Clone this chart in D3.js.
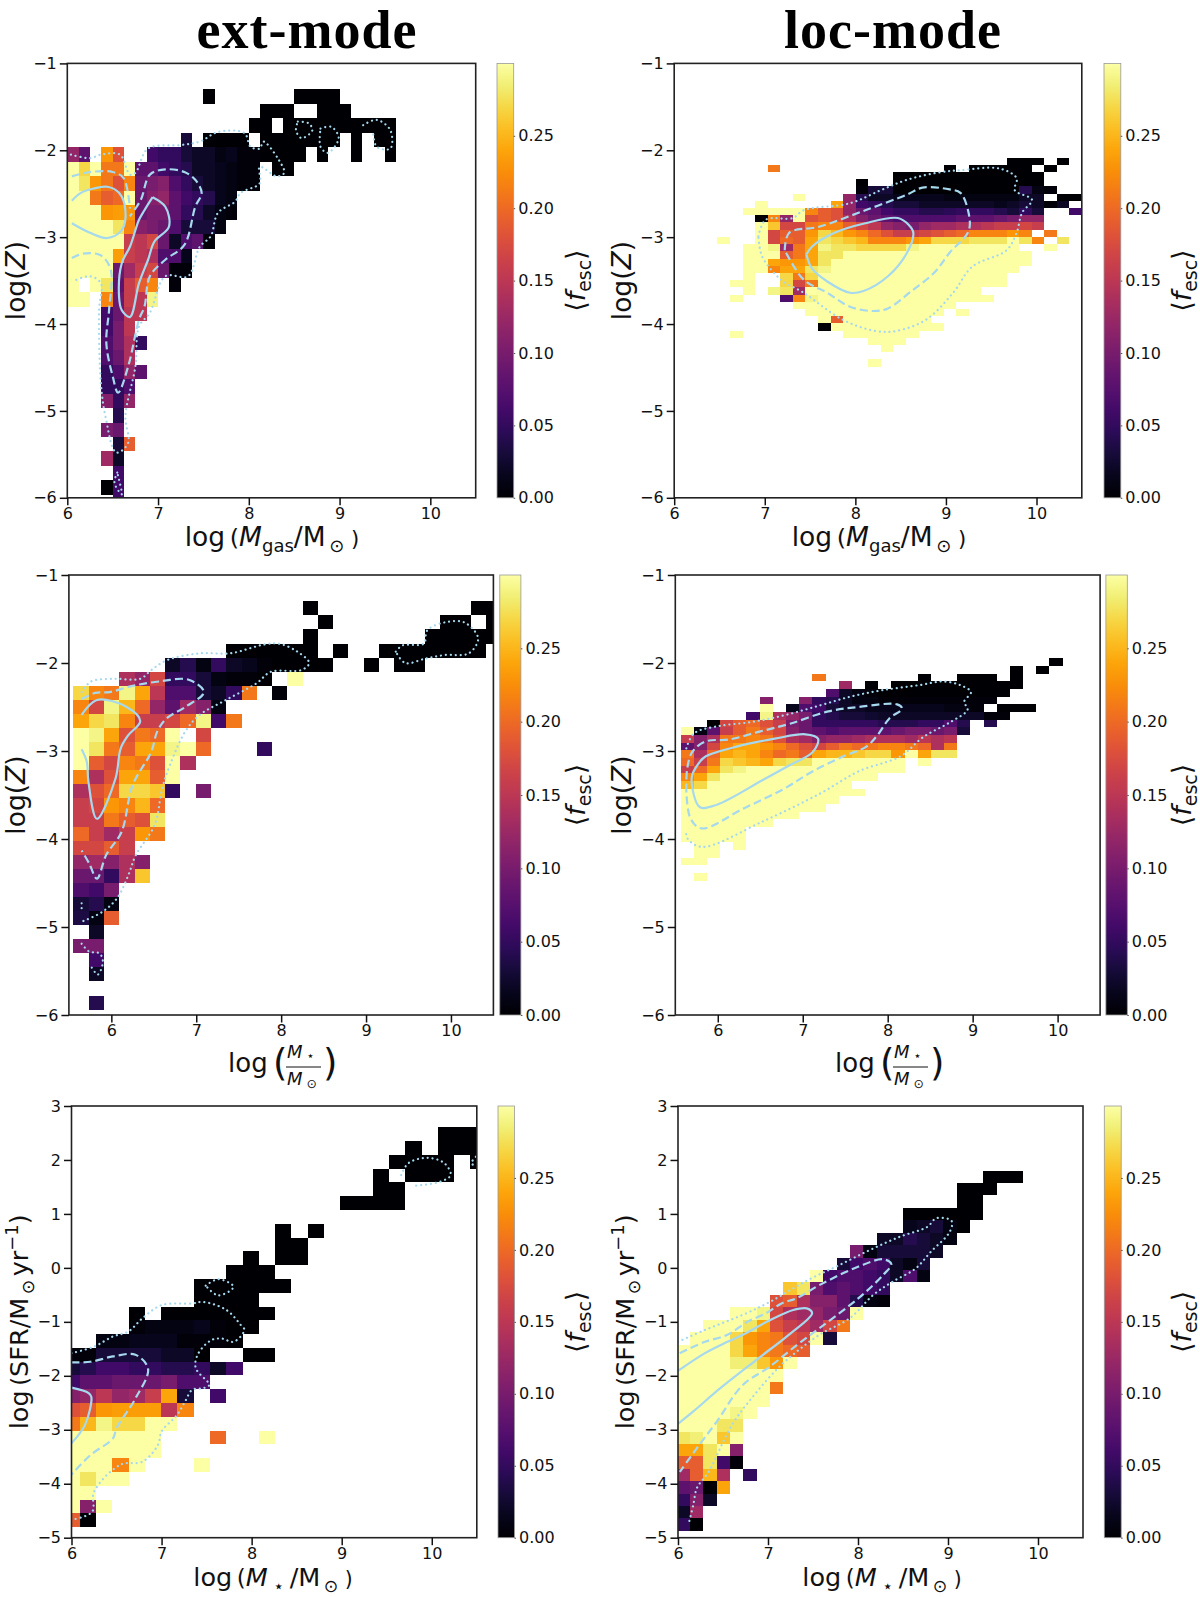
<!DOCTYPE html>
<html lang="en">
<head>
<meta charset="UTF-8">
<style>
  body { margin: 0; background: #fff; }
  text { font-family: "DejaVu Sans", sans-serif; fill: #111; }
  .title { font-family: "Liberation Serif", serif; font-weight: bold; font-size: 54px; letter-spacing: 1px; fill: #000; }
  .tick text { font-size: 16px; font-family: "DejaVu Sans", sans-serif; }
</style>
</head>
<body>
<svg id="fig" width="1200" height="1597"></svg>
<script src="https://d3js.org/d3.v7.min.js"></script>
<script>
// mean fesc in hundredths; each row is [row from top, first column, values...]
const _ = null;
const extGasRows = [
  [0,12,0,_,_,_,_,_,_,_,0,0,0,0],
  [1,17,0,0,0,_,_,0,0,0],
  [2,16,0,0,_,0,0,0,0,0,0,0,0,0,0],
  [3,10,3,_,0,0,0,0,_,0,0,0,0,0,0,0,_,0,_,0,0],
  [4,0,12,8,_,23,18,_,_,6,5,5,3,2,2,1,1.5,.5,.5,0,0,0,0,_,0,_,_,0,_,_,0],
  [5,0,30,27,30,21,21,30,8,8,6,5,4,2,2,1.5,1,.5,.5,_,0,0],
  [6,0,30,28,23,21,18,22,9,10,11,7,5,3,2,1.5,1,.5,.5],
  [7,0,30,30,21,19,20,30,9,11,12,8,6,5,4,1.5,1],
  [8,0,30,30,30,23,23.5,23,9,10,10,8,5,4,2,1,.5],
  [9,0,30,30,30,30,28,22,11,10,9,7,3,3,3,1],
  [10,0,30,30,30,30,30,16,15,17,9,2,7,8,.5],
  [11,0,30,30,30,30,23.5,16,15,14,7,7,1.5],
  [12,0,30,30,30,30,9,13,16,17,9,.5,.5],
  [13,0,30,_,30,28,8,16,19,22,_,.5],
  [14,0,30,30,_,22,9,16,15,29],
  [15,3,6,9,15,15],
  [16,3,6,10,15],
  [17,3,7,10,14,5],
  [18,3,7,9,14],
  [19,3,5,7,12,8],
  [20,3,5,5,7],
  [21,3,11,5,12],
  [22,4,4],
  [23,3,10,9],
  [24,4,3,19],
  [25,3,13,2],
  [26,4,6],
  [27,3,0,6],
  [28,4,6]
];
const locGasRows = [
  [0,23,0,0,0,_,0],
  [1,4,21,_,_,_,_,_,_,_,_,_,_,_,_,_,0,_,0,0,0,0,0,_,0],
  [2,14,0,0,0,0,0,0,0,0,0,0,0,0],
  [3,11,0,_,_,0,0,0,0,0,0,0,0,0,0,0,0],
  [4,11,.5,3,3,0,0,0,0,0,0,0,0,0,0,4,1,.5],
  [5,6,30,_,_,_,12,4,2,2,1.5,1.5,1.5,1.5,1,1,1,1,1,1,2,2,_,0,0],
  [6,3,30,_,_,_,_,_,24,12,6,5,4,3,3,2,2,2,2,2,2,1.5,2,3,2,.5,2],
  [7,2,30,30,30,30,30,22,19,18,12,9,8,6,5,5,4,4,4.5,5,5,5,4,3,5,3,_,_,6],
  [8,3,0,22,12,30,18,19,18,14,11,9,8,7,7,7,7,7,8,8,8,9,10,12,12],
  [9,3,30,26,17,17,21,22,22,19,17,15,12,11,10,12,13,13,14,14,15,16,16,17,16],
  [10,3,30,17,19,19,23,27,25,23,22,20,18,16,16,17,18,19,20,22,22,22,23,22,_,21],
  [11,0,30,_,_,30,17,20,19,24,28,27,26,25,22,22,22,23,24,27,27,27,28,28,28,30,28,22,_,28],
  [12,2,30,30,29,13,21,24,29,28,28,27,27,27,27,29,30,30,30,30,30,30,30,30,_,_,30],
  [13,2,30,30,30,19,21,24,28,28,30,30,30,30,30,30,30,30,30,30,30,30,30,30,30],
  [14,2,30,30,24,23,23,24,28,30,30,30,30,30,30,30,30,30,30,30,30,30,30,30,30],
  [15,2,30,30,22,24,24,28,29,30,30,30,30,30,30,30,30,30,30,30,30,30,30,30],
  [16,2,30,_,_,27,21,27,30,30,30,30,30,30,30,30,30,30,30,30,30,30,30],
  [17,1,30,30,_,_,27,17,21,30,30,30,30,30,30,30,30,30,30,30,30,30,30,30],
  [18,2,30,_,29,28,13,30,30,30,30,30,30,30,30,30,30,30,30,30,30],
  [19,1,30,_,_,_,7,22,29,30,30,30,30,30,30,30,30,30,30,30,30,30,30],
  [20,6,30,30,30,30,30,30,30,30,30,30,30,30,30],
  [21,7,30,30,30,30,30,30,30,30,30,30,30,_,30],
  [22,8,30,19,30,30,30,30,30,30,30],
  [23,8,0,30,30,30,30,30,30,30,30,30],
  [24,1,30,_,_,_,_,_,_,_,_,30,30,30,30,30,30],
  [25,12,30,30,30],
  [26,13,30],
  [28,12,30]
];
const extStarRows = [
  [0,15,0,_,_,_,_,_,_,_,_,_,_,0,0],
  [1,16,0,_,_,_,_,_,_,_,0,0,_,0],
  [2,15,0,_,_,_,_,_,_,_,0,0,0,0,0],
  [3,10,0,0,0,0,0,0,_,0,_,_,0,0,0,0,0,0,0],
  [4,6,2,4,1,5,2,1.5,.5,0,0,0,0,_,_,0,_,0,0],
  [5,3,14,12,17,5,5,3,1,.5,.5,0,_,30],
  [6,0,27,22,21,29,24,15,7,7,3,2,5,21,_,.5],
  [7,0,22,17,29,25,20,12,8,13,11,1],
  [8,0,24,27,28,22,16,16,17,20,29,6,21],
  [9,0,30,29,24,18,21,20,30,_,17],
  [10,0,30,28,21,19,24,24,29,30,20,_,_,_,5],
  [11,0,30,19,17,22,21,18,30,14],
  [12,0,22,14,18,24,24,19,30],
  [13,0,14,18,20,27,27,26,5,_,10],
  [14,0,16,17,23,22,25,20],
  [15,0,16,16,21,19,18,28],
  [16,0,20,16,13,16,23,21],
  [17,0,17,17,19,16],
  [18,0,12,13,11,14,11],
  [19,0,9,9,5,14,26],
  [20,0,7,6,10],
  [21,0,3,4,1],
  [22,0,3.5,1,19],
  [23,1,2],
  [24,0,10,10],
  [25,1,6],
  [26,1,2],
  [28,1,4]
];
const locStarRows = [
  [0,28,0],
  [1,25,0,_,0],
  [2,10,21,_,_,_,_,_,_,_,0,_,_,0,0,0,_,0],
  [3,12,13,_,0,_,0,0,0,0,0,0,0,0,0,0],
  [4,11,7,2,1,.5,0,0,0,0,0,0,0,0,0,0],
  [5,6,11,_,_,11,5,4,2,1,1,.5,.5,.5,.5,.5,.5,.5,.5,.5],
  [6,6,30,_,1.5,7,6,3,2,2,1.5,1.5,1.5,1.5,1.5,1.5,1,1,.5,_,0,0,0],
  [7,5,6,29,14,12,10,5,4,3,3,2.5,2,2,2,2,2,2,2,2,.5,.5],
  [8,2,0,17,19,20,18,16,10,9,5,5,5,5,5,4,4,4,5,5,7,4,_,4],
  [9,0,30,1,8,16,19,21,19,17,11,9,8,7,8,8,8,8,9,10,10,9,10,3],
  [10,0,16,11,14,21,21,22,21,18,14,13,11,12,12,13,14,14,14,13,15,14,15],
  [11,0,8,11,17,22,24,24,23,22,20,18,17,19,21,20,21,22,22,21,20,14,21],
  [12,0,21,14,20,24,25,24,22,20,21,19,24,25,25,26,27,27,23,30,24,28,28],
  [13,0,20,16,21,27,26,25,24,27,28,28,30,30,30,30,30,30,30,_,30],
  [14,0,16,20,24,28,29,30,30,30,30,30,30,30,30,30,30,30,30],
  [15,0,22,24,28,30,30,30,30,30,30,30,30,30,30,30,30],
  [16,0,25,27,30,30,30,30,30,30,30,30,30,30,30],
  [17,0,30,30,30,30,30,30,30,30,30,30,30,30,30,30],
  [18,0,30,30,30,30,30,30,30,30,30,30,30,30],
  [19,0,30,30,30,30,30,30,30,30,30,30,30],
  [20,0,30,30,30,30,30,30,30,30,30],
  [21,0,30,30,30,30,30,30,30],
  [22,0,30,30,30,30,30],
  [23,0,30,30,30,30,30],
  [24,1,30,30,_,30],
  [25,1,30,30],
  [26,0,30,30],
  [28,1,30]
];
const extSfrRows = [
  [0,23,0,0,0],
  [1,21,0,_,0,0,0],
  [2,20,0,0,0,0,_,0],
  [3,19,0,_,0,0,0],
  [4,19,0,0],
  [5,17,0,0,0,0],
  [7,13,0,_,0],
  [8,13,0,0],
  [9,11,0,_,0,0],
  [10,10,0,0,0],
  [11,8,0,0,0,0,0,0],
  [12,8,0,0,0,0],
  [13,4,0,_,0,0,0,0,0,0,0],
  [14,4,.5,1,1,1,1.5,.5,0,0],
  [15,2,1,1,1.5,1.5,1.5,.5,.5,.5,0],
  [16,0,.5,.5,3,3,3,3,2,2,0,_,_,0,0],
  [17,0,3,4,6,6,5,5,4,4,5,2,6],
  [18,0,6,8,8,9,9,9,10,7,7],
  [19,0,11,12,15,12,13,16,24,3,_,6],
  [20,0,18,19,23,23.5,23.5,23.5,15,22],
  [21,0,21,25,29,27,27,30,30],
  [22,0,30,30,30,30,30,30,_,_,_,20,_,_,30],
  [23,0,30,30,30,30,30,30],
  [24,0,30,30,30,22,30,_,_,_,30],
  [25,0,30,28,30,30],
  [26,0,30,30],
  [27,0,30,11,30],
  [28,0,19,0]
];
const locSfrRows = [
  [0,23,0,0,0],
  [1,21,0,0,0],
  [2,21,0,0],
  [3,17,0,0,0,0,0,0],
  [4,17,1.5,2,3,1,0],
  [5,15,2,2,4,3,2,1],
  [6,13,10,1,3,3,3,3,2],
  [7,12,3,6,7,6,2,1,3],
  [8,10,30,6,7,7,6,5,2,7,1],
  [9,8,26,28,10,7,8,7,6,5],
  [10,7,18,19,14,11,11,8,4,1,.5],
  [11,4,30,30,29,17,14,13,12,10,9,30],
  [12,2,30,30,30,28,24,18,16,15,13,17,21],
  [13,1,30,30,30,27,23,22,21,18,17,30,3],
  [14,0,30,30,30,30,27,24,22,21,20,19],
  [15,0,30,30,30,30,28.5,28.5,26,23,30],
  [16,0,30,30,30,30,30,30,30,30],
  [17,0,30,30,30,30,30,30,30,21],
  [18,0,30,30,30,30,30,30,30],
  [19,0,30,30,30,30,29,30],
  [20,0,30,30,30,28,28],
  [21,0,28,28.5,30,26,30],
  [22,0,24,24,28,30,11],
  [23,0,19,19,28,6,.5],
  [24,0,13,19,25,14,_,5],
  [25,0,8,9,0,24],
  [26,0,5,11,2],
  [27,0,2,13],
  [28,0,5,0]
];

// contour levels, in axis units
const extGasSolid = [
  [[6.05,-2.58],[6.15,-2.49],[6.29,-2.44],[6.44,-2.42],[6.57,-2.49],[6.64,-2.69],[6.60,-2.92],[6.44,-3.01],[6.25,-2.95],[6.05,-2.84]],
  [[6.94,-2.54],[7.08,-2.65],[7.12,-2.88],[6.96,-3.05],[6.89,-3.26],[6.79,-3.53],[6.69,-3.92],[6.60,-3.84],[6.57,-3.68],[6.60,-3.30],[6.69,-3.11],[6.79,-2.80],[6.85,-2.69],[6.94,-2.54]]
];
const extGasDashed = [
  [[6.05,-2.30],[6.25,-2.25],[6.50,-2.25],[6.62,-2.32],[6.69,-2.67]],
  [[6.05,-3.24],[6.17,-3.19],[6.37,-3.21],[6.48,-3.38],[6.46,-3.84],[6.43,-4.22],[6.50,-4.60],[6.56,-4.79],[6.67,-4.49],[6.79,-3.95],[6.85,-3.80],[6.91,-3.45],[7.08,-3.26],[7.29,-3.09],[7.41,-2.65],[7.48,-2.49],[7.41,-2.34],[7.29,-2.25],[7.08,-2.22],[6.91,-2.28],[6.81,-2.57],[6.69,-2.76]]
];
const extGasDotted = [
  [[6.04,-2.05],[6.25,-2.09],[6.37,-2.05],[6.58,-2.05],[6.69,-2.28],[6.75,-2.26],[6.89,-1.98],[7.25,-1.94],[7.46,-1.90],[7.66,-1.79],[7.95,-1.80],[8.02,-1.96],[8.12,-1.98],[8.16,-1.90],[8.33,-2.11],[8.39,-2.26],[8.31,-2.30],[8.12,-2.19],[8.12,-2.38],[7.91,-2.49],[7.85,-2.59],[7.66,-2.72],[7.58,-2.99],[7.46,-3.11],[7.33,-3.45],[7.08,-3.45],[6.91,-3.87],[6.79,-4.03],[6.75,-4.49],[6.64,-5.06],[6.67,-5.37],[6.54,-5.48],[6.42,-5.06],[6.37,-4.68],[6.35,-3.84],[6.37,-3.53],[6.25,-3.45],[6.06,-3.51]],
  [[8.54,-1.67],[8.66,-1.69],[8.70,-1.77],[8.58,-1.86],[8.52,-1.77],[8.54,-1.67]],
  [[8.79,-1.75],[8.91,-1.73],[8.99,-1.86],[8.87,-2.03],[8.79,-1.96],[8.79,-1.75]],
  [[9.26,-1.71],[9.41,-1.65],[9.56,-1.77],[9.56,-1.98],[9.41,-1.96],[9.37,-1.80]],
  [[6.55,-5.71],[6.52,-5.83],[6.60,-5.96],[6.57,-5.79],[6.55,-5.71]]
];
const locGasSolid = [
  [[7.46,-3.20],[7.52,-3.11],[7.77,-2.95],[8.11,-2.84],[8.47,-2.78],[8.59,-2.86],[8.64,-2.95],[8.57,-3.18],[8.36,-3.45],[8.09,-3.62],[7.94,-3.64],[7.69,-3.51],[7.52,-3.36],[7.46,-3.20]]
];
const locGasDashed = [
  [[7.22,-3.15],[7.27,-2.95],[7.60,-2.88],[8.11,-2.69],[8.57,-2.51],[8.74,-2.43],[9.04,-2.45],[9.16,-2.49],[9.25,-2.72],[9.25,-2.93],[9.04,-3.18],[8.87,-3.41],[8.62,-3.62],[8.36,-3.82],[8.19,-3.85],[7.94,-3.80],[7.69,-3.64],[7.43,-3.49],[7.22,-3.15]]
];
const locGasDotted = [
  [[6.93,-2.99],[7.01,-2.80],[7.31,-2.78],[7.43,-2.69],[7.94,-2.61],[8.28,-2.46],[8.57,-2.34],[8.95,-2.25],[9.16,-2.23],[9.59,-2.21],[9.78,-2.32],[9.76,-2.46],[9.95,-2.57],[9.84,-2.72],[9.78,-2.95],[9.67,-3.15],[9.29,-3.34],[9.08,-3.64],[8.78,-3.95],[8.45,-4.08],[8.22,-4.08],[7.86,-3.95],[7.43,-3.64],[7.18,-3.49],[6.97,-3.22],[6.93,-2.99]]
];
const extStarSolid = [
  [[5.65,-2.59],[5.83,-2.42],[6.18,-2.50],[6.34,-2.66],[6.20,-2.82],[6.11,-2.97],[6.05,-3.31],[5.83,-3.77],[5.73,-3.35],[5.71,-3.12],[5.65,-2.98]]
];
const extStarDashed = [
  [[5.65,-2.41],[5.81,-2.34],[5.98,-2.33],[6.25,-2.26],[6.56,-2.21],[6.91,-2.19],[7.09,-2.33],[6.87,-2.50],[6.65,-2.63],[6.54,-2.78],[6.47,-3.01],[6.25,-3.39],[6.12,-3.92],[5.94,-4.18],[5.83,-4.45],[5.74,-4.28],[5.65,-4.13]]
];
const extStarDotted = [
  [[5.65,-2.33],[5.76,-2.21],[6.03,-2.18],[6.34,-2.18],[6.47,-2.08],[6.65,-1.97],[7.04,-1.89],[7.40,-1.89],[7.80,-1.79],[7.97,-1.78],[8.19,-1.87],[8.33,-2.00],[8.24,-2.08],[7.88,-2.10],[7.71,-2.23],[7.35,-2.42],[7.04,-2.59],[6.87,-2.78],[6.69,-3.16],[6.60,-3.42],[6.51,-3.84],[6.29,-4.18],[6.20,-4.41],[6.07,-4.67],[5.89,-4.83],[5.65,-4.94]],
  [[5.65,-4.73],[5.65,-4.81]],
  [[5.65,-5.19],[5.74,-5.28],[5.86,-5.30],[5.90,-5.39],[5.84,-5.54],[5.75,-5.43]],
  [[9.35,-1.87],[9.43,-1.80],[9.68,-1.78],[9.72,-1.63],[9.92,-1.54],[10.16,-1.54],[10.32,-1.72],[10.21,-1.89],[9.92,-1.91],[9.70,-1.95],[9.46,-2.00],[9.35,-1.87]]
];
const locStarSolid = [
  [[5.79,-3.12],[5.70,-3.27],[5.70,-3.42],[5.79,-3.64],[5.99,-3.61],[6.53,-3.33],[6.85,-3.16],[7.12,-3.01],[7.18,-2.86],[7.03,-2.81],[6.67,-2.86],[6.22,-2.95],[5.86,-3.06],[5.79,-3.12]]
];
const locStarDashed = [
  [[5.63,-3.46],[5.64,-3.20],[5.70,-3.01],[5.86,-2.89],[6.13,-2.87],[6.49,-2.78],[6.85,-2.69],[7.30,-2.55],[7.66,-2.50],[8.11,-2.47],[8.17,-2.52],[8.02,-2.63],[7.88,-2.82],[7.75,-2.95],[7.48,-3.06],[7.12,-3.23],[6.76,-3.44],[6.31,-3.65],[5.81,-3.88],[5.68,-3.77],[5.63,-3.46]]
];
const locStarDotted = [
  [[5.63,-2.97],[5.72,-2.80],[5.99,-2.72],[6.40,-2.67],[6.80,-2.59],[7.21,-2.48],[7.57,-2.38],[7.93,-2.31],[8.38,-2.25],[8.65,-2.21],[8.85,-2.25],[8.98,-2.33],[8.90,-2.44],[8.94,-2.53],[8.74,-2.67],[8.42,-2.84],[8.15,-3.06],[7.66,-3.23],[7.21,-3.48],[6.53,-3.80],[5.81,-4.09],[5.64,-3.99],[5.63,-3.92]]
];
const extSfrSolid = [
  [[6.00,-2.22],[6.19,-2.32],[6.22,-2.39],[6.15,-2.91],[6.00,-3.25]]
];
const extSfrDashed = [
  [[6.00,-1.75],[6.21,-1.74],[6.46,-1.64],[6.71,-1.61],[6.85,-1.87],[6.71,-2.42],[6.50,-2.97],[6.46,-3.16],[6.21,-3.47],[6.00,-3.83]]
];
const extSfrDotted = [
  [[6.00,-1.58],[6.25,-1.46],[6.46,-1.27],[6.63,-1.18],[6.79,-0.93],[7.00,-0.69],[7.34,-0.66],[7.46,-0.63],[7.72,-0.78],[7.88,-1.06],[7.92,-1.15],[7.80,-1.37],[7.67,-1.31],[7.55,-1.34],[7.40,-1.61],[7.38,-1.86],[7.53,-2.17],[7.46,-2.23],[7.34,-2.26],[7.26,-2.48],[7.17,-2.73],[7.00,-3.03],[6.96,-3.28],[6.79,-3.59],[6.54,-3.65],[6.25,-4.15],[6.23,-4.52],[6.00,-4.67]],
  [[7.49,-0.33],[7.63,-0.21],[7.80,-0.35],[7.63,-0.51],[7.49,-0.33]],
  [[9.66,1.72],[9.74,1.94],[9.95,2.04],[10.14,1.94],[10.21,1.72],[10.10,1.60],[9.81,1.52]],
  [[10.49,2.06],[10.44,1.94],[10.50,1.88]]
];
const locSfrSolid = [
  [[6.00,-1.91],[6.30,-1.58],[6.55,-1.37],[6.72,-1.24],[7.02,-0.97],[7.28,-0.78],[7.43,-0.75],[7.49,-0.84],[7.23,-1.24],[6.89,-1.68],[6.47,-2.23],[6.17,-2.66],[6.00,-2.89]]
];
const locSfrDashed = [
  [[6.02,-1.58],[6.30,-1.37],[6.55,-1.24],[6.77,-1.00],[6.98,-0.84],[7.15,-0.66],[7.32,-0.56],[7.57,-0.32],[8.00,0.02],[8.28,0.16],[8.37,0.07],[8.28,-0.13],[8.09,-0.44],[7.91,-0.69],[7.57,-1.12],[7.32,-1.43],[7.02,-1.83],[6.72,-2.17],[6.43,-2.85],[6.21,-3.34],[6.02,-3.78]]
];
const locSfrDotted = [
  [[6.00,-1.37],[6.30,-1.15],[6.72,-0.87],[7.02,-0.63],[7.45,-0.22],[7.79,0.05],[8.13,0.33],[8.47,0.58],[8.77,0.76],[8.87,0.92],[9.04,0.87],[9.02,0.67],[8.81,0.30],[8.64,-0.01],[8.38,-0.26],[8.17,-0.50],[7.91,-0.93],[7.57,-1.24],[7.32,-1.55],[7.11,-1.86],[6.85,-2.35],[6.60,-2.91],[6.34,-3.78],[6.21,-4.08],[6.17,-4.39],[6.12,-4.73]]
];

const xTicks = [6, 7, 8, 9, 10];
const zTicks = [-1, -2, -3, -4, -5, -6];
const sfrTicks = [3, 2, 1, 0, -1, -2, -3, -4, -5];
const fescTicks = [0, 0.05, 0.10, 0.15, 0.20, 0.25];
const titles = ["ext-mode", "loc-mode"];

const color = d3.scaleSequential(d3.interpolateInferno).domain([0, 0.30]);
const svg = d3.select("#fig");
const minus = d => String(d).replace("-", "\u2212");

svg.append("text").attr("class", "title").attr("x", 307).attr("y", 48).attr("text-anchor", "middle").text(titles[0]);
svg.append("text").attr("class", "title").attr("x", 893).attr("y", 48).attr("text-anchor", "middle").text(titles[1]);

// colorbar gradient sampled from the same scale
const grad = svg.append("defs").append("linearGradient").attr("id", "cbar")
  .attr("x1", 0).attr("y1", 1).attr("x2", 0).attr("y2", 0);
d3.range(0, 1.001, 0.05).forEach(t => {
  grad.append("stop").attr("offset", t).attr("stop-color", d3.interpolateInferno(t));
});

// tspans with sub and superscripts, p.dy is the shift from the baseline
function addMath(text, parts, size) {
  let shift = 0;
  parts.forEach(p => {
    let d = p.dy || 0;
    text.append("tspan")
      .attr("dy", d - shift)
      .style("font-size", (p.s || 1) * size + "px")
      .style("font-style", p.i ? "italic" : null)
      .text(p.t);
    shift = d;
  });
}

const gasLabel = [{t:"log"},{t:"\u2009(",s:.9},{t:"M",i:1},{t:"gas",s:.68,dy:6},{t:"/M"},{t:"\u2009\u2299",s:.68,dy:6},{t:" )",s:.8}];
const starLabel = [{t:"log"},{t:"\u2009(",s:.9},{t:"M",i:1},{t:" \u22C6 ",s:.68,dy:6},{t:"/M"},{t:"\u2009\u2299",s:.68,dy:6},{t:" )",s:.8}];
const zLabel = [{t:"log("},{t:"Z",i:1},{t:")"}];
const sfrLabel = [{t:"log"},{t:"\u2009(",s:.9},{t:"SFR/M"},{t:"\u2009\u2299\u2009",s:.68,dy:6},{t:"yr"},{t:"\u22121",s:.7,dy:-10},{t:")"}];
const fescLabel = [{t:"\u27E8"},{t:"f",i:1},{t:"esc",s:.7,dy:6},{t:"\u27E9"}];

function fractionLabel(x, y) {
  let g = svg.append("g").attr("transform", "translate(" + x + "," + y + ")");
  g.append("text").attr("x", -2).attr("y", 0).style("font-size", "26px").text("log");
  g.append("text").attr("x", 43).attr("y", 4).style("font-size", "37px").text("(");
  g.append("text").attr("x", 93).attr("y", 4).style("font-size", "37px").text(")");
  let top = g.append("text").attr("x", 57).attr("y", -14);
  addMath(top, [{t:"M",i:1},{t:" \u22C6",s:.7,dy:2}], 18);
  let bot = g.append("text").attr("x", 57).attr("y", 13);
  addMath(bot, [{t:"M",i:1},{t:" \u2299",s:.7,dy:3}], 18);
  g.append("line").attr("x1", 56).attr("x2", 91).attr("y1", -5).attr("y2", -5)
    .attr("stroke", "#111").attr("stroke-width", 1.2);
}

const lineGen = (x, y) => d3.line().x(d => x(d[0])).y(d => y(d[1])).curve(d3.curveCatmullRom.alpha(0.5));

function drawPanel(id, p) {
  let x = d3.scaleLinear().domain(p.xDomain).range([p.left, p.right]);
  let y = d3.scaleLinear().domain(p.yDomain).range([p.bottom, p.top]);
  let g = svg.append("g");

  svg.select("defs").append("clipPath").attr("id", "clip" + id)
    .append("rect").attr("x", p.left).attr("y", p.top)
    .attr("width", p.right - p.left).attr("height", p.bottom - p.top);
  let plot = g.append("g").attr("clip-path", "url(#clip" + id + ")");

  // expand the rows into one cell per value
  let cells = [];
  p.rows.forEach(r => {
    r.slice(2).forEach((v, i) => {
      if (v !== null) cells.push({ row: r[0], col: r[1] + i, v: v / 100 });
    });
  });
  plot.selectAll("rect").data(cells).enter().append("rect")
    .attr("x", d => x(p.x0 + d.col * p.xStep))
    .attr("y", d => y(p.y0 - d.row * p.yStep))
    .attr("width", d => x(p.x0 + (d.col + 1) * p.xStep) - x(p.x0 + d.col * p.xStep))
    .attr("height", d => y(p.y0 - (d.row + 1) * p.yStep) - y(p.y0 - d.row * p.yStep))
    .attr("fill", d => color(d.v))
    .attr("shape-rendering", "crispEdges");

  let line = lineGen(x, y);
  let styles = [
    { lines: p.solid, dash: null, w: 2.2, cap: "butt" },
    { lines: p.dashed, dash: "8 4", w: 2.2, cap: "butt" },
    { lines: p.dotted, dash: "0.1 4.8", w: 2.2, cap: "round" }
  ];
  styles.forEach(s => {
    plot.append("g").selectAll("path").data(s.lines).enter().append("path")
      .attr("d", line).attr("fill", "none")
      .attr("stroke", "#a6d8ee").attr("stroke-width", s.w)
      .attr("stroke-linecap", s.cap).attr("stroke-dasharray", s.dash);
  });

  // frame and axes
  g.append("rect").attr("x", p.left).attr("y", p.top)
    .attr("width", p.right - p.left).attr("height", p.bottom - p.top)
    .attr("fill", "none").attr("stroke", "#222").attr("stroke-width", 1.6);
  let xAxis = g.append("g").attr("transform", "translate(0," + p.bottom + ")")
    .call(d3.axisBottom(x).tickValues(xTicks).tickSize(7.5).tickPadding(2.5).tickFormat(minus));
  let yAxis = g.append("g").attr("transform", "translate(" + p.left + ",0)")
    .call(d3.axisLeft(y).tickValues(p.yTicks).tickSize(7.5).tickPadding(3).tickFormat(minus));
  [xAxis, yAxis].forEach(a => {
    a.select(".domain").remove();
    a.selectAll("line").attr("stroke", "#111").attr("stroke-width", 1.5);
  });

  // colorbar
  let cb = d3.scaleLinear().domain([0, 0.30]).range([p.bottom, p.top]);
  g.append("rect").attr("x", p.cbLeft).attr("y", p.top)
    .attr("width", p.cbRight - p.cbLeft).attr("height", p.bottom - p.top)
    .attr("fill", "url(#cbar)").attr("stroke", "#999").attr("stroke-width", 0.8);
  let cbAxis = g.append("g").attr("transform", "translate(" + p.cbRight + ",0)")
    .call(d3.axisRight(cb).tickValues(fescTicks).tickSize(1.5).tickPadding(3).tickFormat(d3.format(".2f")));
  cbAxis.select(".domain").remove();
  cbAxis.selectAll("line").attr("stroke", "#555").attr("stroke-width", 1);

  // labels
  if (p.xLabel) {
    addMath(svg.append("text").attr("x", p.xLabelX).attr("y", p.xLabelY).attr("text-anchor", "middle"), p.xLabel, p.xLabelSize);
  } else {
    fractionLabel(p.xLabelX, p.xLabelY);
  }
  addMath(svg.append("text").attr("text-anchor", "middle")
    .attr("transform", "translate(" + p.yLabelX + "," + (p.top + p.bottom) / 2 + ") rotate(-90)"), p.yLabel, p.yLabelSize);
  addMath(svg.append("text").attr("text-anchor", "middle")
    .attr("transform", "translate(" + p.cbLabelX + "," + (p.top + p.bottom) / 2 + ") rotate(-90)"), fescLabel, 27);
}

const zDomain = [-6, -1], sfrDomain = [-5, 3];

drawPanel("A", { left: 67.3, right: 475.7, top: 63.4, bottom: 497.8, cbLeft: 497, cbRight: 513.7,
  xDomain: [6, 10.5], yDomain: zDomain, yTicks: zTicks, x0: 6, xStep: 0.125, y0: -1.3, yStep: 1 / 6,
  rows: extGasRows, solid: extGasSolid, dashed: extGasDashed, dotted: extGasDotted,
  xLabel: gasLabel, xLabelSize: 26.5, xLabelX: 272, xLabelY: 546, yLabel: zLabel, yLabelSize: 26.5, yLabelX: 25, cbLabelX: 585 });
drawPanel("B", { left: 674.2, right: 1081.8, top: 63.4, bottom: 497.8, cbLeft: 1104, cbRight: 1120.8,
  xDomain: [6, 10.5], yDomain: zDomain, yTicks: zTicks, x0: 6.477, xStep: 0.1388, y0: -2.084, yStep: 0.083,
  rows: locGasRows, solid: locGasSolid, dashed: locGasDashed, dotted: locGasDotted,
  xLabel: gasLabel, xLabelSize: 26.5, xLabelX: 879, xLabelY: 546, yLabel: zLabel, yLabelSize: 26.5, yLabelX: 631, cbLabelX: 1191 });
drawPanel("C", { left: 68.9, right: 493.4, top: 575, bottom: 1015, cbLeft: 499.8, cbRight: 520.9,
  xDomain: [5.5, 10.5], yDomain: zDomain, yTicks: zTicks, x0: 5.553, xStep: 0.18, y0: -1.299, yStep: 0.16,
  rows: extStarRows, solid: extStarSolid, dashed: extStarDashed, dotted: extStarDotted,
  xLabelX: 230, xLabelY: 1072, yLabel: zLabel, yLabelSize: 26.5, yLabelX: 25, cbLabelX: 585 });
drawPanel("D", { left: 675.3, right: 1100.1, top: 575, bottom: 1015, cbLeft: 1105.9, cbRight: 1127.3,
  xDomain: [5.5, 10.5], yDomain: zDomain, yTicks: zTicks, x0: 5.563, xStep: 0.155, y0: -1.947, yStep: 0.0871,
  rows: locStarRows, solid: locStarSolid, dashed: locStarDashed, dotted: locStarDotted,
  xLabelX: 837, xLabelY: 1072, yLabel: zLabel, yLabelSize: 26.5, yLabelX: 631, cbLabelX: 1191 });
drawPanel("E", { left: 71.5, right: 476.8, top: 1106, bottom: 1537.7, cbLeft: 498, cbRight: 514.5,
  xDomain: [6, 10.5], yDomain: sfrDomain, yTicks: sfrTicks, x0: 5.912, xStep: 0.1807, y0: 2.605, yStep: 0.2555,
  rows: extSfrRows, solid: extSfrSolid, dashed: extSfrDashed, dotted: extSfrDotted,
  xLabel: starLabel, xLabelSize: 25.5, xLabelX: 273, xLabelY: 1586, yLabel: sfrLabel, yLabelSize: 25.5, yLabelX: 28, cbLabelX: 585 });
drawPanel("F", { left: 678, right: 1083, top: 1106, bottom: 1537.7, cbLeft: 1104.3, cbRight: 1121.2,
  xDomain: [6, 10.5], yDomain: sfrDomain, yTicks: sfrTicks, x0: 5.987, xStep: 0.148, y0: 1.802, yStep: 0.2302,
  rows: locSfrRows, solid: locSfrSolid, dashed: locSfrDashed, dotted: locSfrDotted,
  xLabel: starLabel, xLabelSize: 25.5, xLabelX: 882, xLabelY: 1586, yLabel: sfrLabel, yLabelSize: 25.5, yLabelX: 634, cbLabelX: 1191 });
</script>
</body>
</html>
